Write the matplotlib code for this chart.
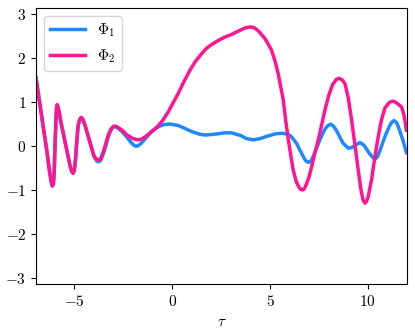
import matplotlib
matplotlib.use("Agg")
import matplotlib.pyplot as plt
from matplotlib.ticker import FuncFormatter, FixedLocator

plt.rcParams['mathtext.fontset'] = 'cm'
plt.rcParams['font.family'] = ['DejaVu Sans']

# Phi_1 (blue)
tau1 = [-6.95, -6.8, -6.6, -6.4, -6.25, -6.17, -6.11, -6.06, -6.02, -5.97, -5.93, -5.9,
        -5.87, -5.83, -5.76, -5.68, -5.42, -5.2, -5.12, -5.05, -4.99, -4.93, -4.85, -4.8,
        -4.72, -4.64, -4.56, -4.45, -4.25, -4.0, -3.95, -3.85, -3.75, -3.65, -3.55, -3.45,
        -3.25, -3.1, -2.98, -2.88, -2.75, -2.55, -2.3, -2.13, -1.98, -1.89, -1.75, -1.6,
        -1.3, -1.04, -0.7, -0.4, -0.1, 0.3, 0.66, 1.0, 1.4, 1.68, 2.19, 2.7, 3.04,
        3.5, 3.8, 4.15, 4.5, 4.91, 5.3, 5.68, 5.95, 6.1, 6.36, 6.62, 6.8, 6.9, 6.98, 7.08,
        7.2, 7.55, 7.8, 7.95, 8.1, 8.25, 8.4, 8.74, 9.0, 9.2, 9.59, 9.8, 10.1, 10.28, 10.39,
        10.5, 10.6, 10.87, 11.1, 11.22, 11.34, 11.45, 11.55, 11.8, 11.97]
phi1 = [1.56, 1.1, 0.5, -0.1, -0.6, -0.82, -0.91, -0.86, -0.6, 0.1, 0.6, 0.86,
        0.94, 0.9, 0.76, 0.55, 0.0, -0.47, -0.58, -0.62, -0.55, -0.3, 0.2, 0.45,
        0.6, 0.65, 0.61, 0.48, 0.17, -0.22, -0.27, -0.34, -0.36, -0.33, -0.22, -0.1,
        0.22, 0.38, 0.44, 0.44, 0.40, 0.33, 0.2, 0.1, 0.03, 0.0, 0.0, 0.05,
        0.2, 0.33, 0.44, 0.49, 0.5, 0.47, 0.40, 0.33, 0.27, 0.25, 0.27, 0.30, 0.30,
        0.24, 0.17, 0.14, 0.17, 0.23, 0.28, 0.29, 0.26, 0.21, 0.06, -0.17, -0.32, -0.36, -0.37, -0.35,
        -0.25, 0.14, 0.38, 0.46, 0.5, 0.45, 0.35, 0.06, -0.05, -0.03, 0.08, 0.02, -0.18, -0.27, -0.29,
        -0.24, -0.12, 0.21, 0.45, 0.54, 0.58, 0.54, 0.45, 0.12, -0.15]

# Phi_2 (pink)
tau2 = [-6.95, -6.8, -6.6, -6.4, -6.25, -6.17, -6.11, -6.06, -6.02, -5.97, -5.93, -5.9,
        -5.87, -5.83, -5.76, -5.68, -5.42, -5.2, -5.12, -5.05, -4.99, -4.93, -4.85, -4.8,
        -4.72, -4.64, -4.56, -4.45, -4.25, -4.0, -3.95, -3.85, -3.75, -3.65, -3.55, -3.45,
        -3.25, -3.1, -2.98, -2.88, -2.75, -2.55, -2.3, -2.0, -1.85, -1.72, -1.55,
        -1.3, -1.04, -0.7, -0.45, -0.19, 0.05, 0.32, 0.6, 0.92, 1.2, 1.51, 1.75, 2.02, 2.35,
        2.7, 3.04, 3.5, 3.75, 3.98, 4.15, 4.3, 4.45, 4.6, 4.74, 4.9, 5.08, 5.25, 5.42, 5.55,
        5.68, 5.8, 5.94, 6.06, 6.19, 6.35, 6.5, 6.58, 6.67, 6.76, 6.85, 7.0, 7.13, 7.3, 7.47,
        7.65, 7.81, 8.0, 8.2, 8.4, 8.54, 8.7, 8.83, 9.0, 9.17, 9.35, 9.51, 9.65, 9.75, 9.85,
        9.93, 10.02, 10.19, 10.35, 10.53, 10.7, 10.87, 11.05, 11.18, 11.29, 11.4, 11.5, 11.72,
        11.85, 11.97]
phi2 = [1.56, 1.1, 0.5, -0.1, -0.6, -0.82, -0.91, -0.86, -0.6, 0.1, 0.6, 0.86,
        0.94, 0.9, 0.76, 0.55, 0.0, -0.47, -0.58, -0.62, -0.55, -0.3, 0.2, 0.45,
        0.6, 0.65, 0.61, 0.48, 0.17, -0.2, -0.25, -0.3, -0.32, -0.29, -0.18, -0.05,
        0.26, 0.4, 0.45, 0.45, 0.42, 0.36, 0.25, 0.17, 0.15, 0.14, 0.16,
        0.23, 0.33, 0.46, 0.6, 0.78, 0.98, 1.2, 1.46, 1.73, 1.93, 2.1, 2.22, 2.31, 2.4,
        2.48, 2.54, 2.64, 2.69, 2.71, 2.7, 2.66, 2.6, 2.52, 2.45, 2.33, 2.18, 1.95, 1.65, 1.35,
        1.05, 0.6, 0.14, -0.2, -0.55, -0.82, -0.95, -0.99, -1.0, -0.97, -0.88, -0.7, -0.47, -0.15, 0.14,
        0.5, 0.82, 1.15, 1.4, 1.52, 1.54, 1.5, 1.42, 1.1, 0.59, 0.0, -0.55, -1.0, -1.22, -1.30,
        -1.26, -1.15, -0.77, -0.28, 0.21, 0.6, 0.86, 0.97, 1.01, 1.02, 1.0, 0.97, 0.89,
        0.7, 0.36]

xticks = [-5, 0, 5, 10]
yticks = [-3, -2, -1, 0, 1, 2, 3]

fig = plt.figure(figsize=(4.15, 3.33), dpi=100)
ax = fig.add_axes([0.0867, 0.147, 0.894, 0.829])

ax.plot(tau1, phi1, color='#1E88FF', lw=2.5, label=r'$\Phi_1$')
ax.plot(tau2, phi2, color='#FF1493', lw=2.5, label=r'$\Phi_2$')

ax.set_xlim(-6.95, 12)
ax.set_ylim(-3.14159, 3.14159)
ax.xaxis.set_major_locator(FixedLocator(xticks))
ax.yaxis.set_major_locator(FixedLocator(yticks))
fmt = FuncFormatter(lambda v, p: r'$%d$' % int(round(v)))
ax.xaxis.set_major_formatter(fmt)
ax.yaxis.set_major_formatter(fmt)
ax.tick_params(labelsize=11)
ax.set_xlabel(r'$\tau$', fontsize=11)

ax.legend(loc='upper left', fontsize=11, handlelength=2.3)

fig.savefig('out.png', dpi=100)
